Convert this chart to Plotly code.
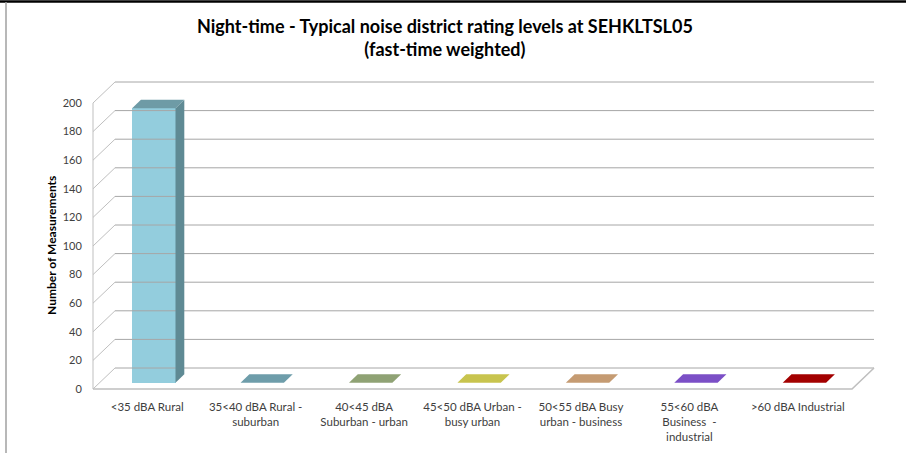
import plotly.graph_objects as go

# ---- data ----
categories = [
    "<35 dBA Rural",
    "35<40 dBA Rural -<br>suburban",
    "40<45 dBA<br>Suburban - urban",
    "45<50 dBA Urban -<br>busy urban",
    "50<55 dBA Busy<br>urban - business",
    "55<60 dBA<br>Business  -<br>industrial",
    ">60 dBA Industrial",
]
values = [192, 0, 0, 0, 0, 0, 0]
y_ticks = [0, 20, 40, 60, 80, 100, 120, 140, 160, 180, 200]
front_colors = ["#93CDDD", "#6E9DAA", "#8FA274", "#C8C44E", "#C59B72", "#7B4FC6", "#A30000"]
top_colors = ["#6E9BA6", "#6E9DAA", "#8FA274", "#C8C44E", "#C59B72", "#7B4FC6", "#A30000"]
side_colors = ["#5F8A94", "#557F8A", "#75865C", "#A5A23E", "#A3805D", "#6240A4", "#820000"]
title_text = "Night-time - Typical noise district rating levels at SEHKLTSL05<br>(fast-time weighted)"
y_title = "Number of Measurements"

# ---- layout geometry (pixels) ----
W, H = 906, 453
L_PX, R_PX, T_PX, B_PX = 90, 882, 70, 392
X0_PX, SX = 93, 108.43     # front plane: x=-0.5 at 93px, px per category
Y0_PX, SY = 389, 1.43      # front plane: y=0 at 389px, px per unit
DX = 22 / SX               # full depth offset (data units)
DY = 21 / SY
F1, F2 = 0.30, 0.70        # bar depth span (fraction of full depth)
BAR_W = 0.40

x_range = [-0.5 - (X0_PX - L_PX) / SX, -0.5 + (R_PX - X0_PX) / SX]
y_range = [-(B_PX - Y0_PX) / SY, (Y0_PX - T_PX) / SY]
n = len(categories)

fig = go.Figure()

grid_col = "#A6A6A6"
wall_col = "#BFBFBF"

# back wall gridlines
gx, gy = [], []
for v in y_ticks:
    gx += [-0.5 + DX, n - 0.5 + DX, None]
    gy += [v + DY, v + DY, None]
fig.add_trace(go.Scatter(x=gx, y=gy, mode="lines", line=dict(color=grid_col, width=1),
                         hoverinfo="skip", showlegend=False))
# side wall diagonals + front-left edge
sx_, sy_ = [], []
for v in y_ticks:
    sx_ += [-0.5, -0.5 + DX, None]
    sy_ += [v, v + DY, None]
sx_ += [-0.5, -0.5, None]
sy_ += [0, y_ticks[-1], None]
fig.add_trace(go.Scatter(x=sx_, y=sy_, mode="lines", line=dict(color=wall_col, width=1),
                         hoverinfo="skip", showlegend=False))
# floor outline
fig.add_trace(go.Scatter(x=[-0.5, n - 0.5, n - 0.5 + DX], y=[0, 0, DY], mode="lines",
                         line=dict(color=wall_col, width=1.6),
                         hoverinfo="skip", showlegend=False))

# bars: side faces, top faces, front faces
b1 = F1 * DY
ddx = (F2 - F1) * DX
ddy = (F2 - F1) * DY
for i, v in enumerate(values):
    xc = i + F1 * DX
    xl, xr = xc - BAR_W / 2, xc + BAR_W / 2
    if v > 0:
        fig.add_trace(go.Scatter(
            x=[xr, xr + ddx, xr + ddx, xr, xr],
            y=[b1, b1 + ddy, b1 + ddy + v, b1 + v, b1],
            fill="toself", fillcolor=side_colors[i], mode="lines",
            line=dict(width=0, color=side_colors[i]), hoverinfo="skip", showlegend=False))
    fig.add_trace(go.Scatter(
        x=[xl, xr, xr + ddx, xl + ddx, xl],
        y=[b1 + v, b1 + v, b1 + v + ddy, b1 + v + ddy, b1 + v],
        fill="toself", fillcolor=top_colors[i], mode="lines",
        line=dict(width=0, color=top_colors[i]), hoverinfo="skip", showlegend=False))

fig.add_trace(go.Bar(
    x=[i + F1 * DX for i in range(n)], y=values, base=b1, width=BAR_W,
    marker=dict(color=front_colors, line=dict(width=0)), showlegend=False,
    hovertext=[c.replace("<br>", " ") for c in categories], hoverinfo="text+y"))

# chart border decorations (paper coords)
pw = R_PX - L_PX
ph = B_PX - T_PX
def px_to_paper_x(px):
    return (px - L_PX) / pw
def px_to_paper_y(py):
    return (B_PX - py) / ph

shapes = [
    dict(type="line", xref="paper", yref="paper",
         x0=px_to_paper_x(0), x1=px_to_paper_x(W), y0=px_to_paper_y(1.5), y1=px_to_paper_y(1.5),
         line=dict(color="#000000", width=2.5)),
    dict(type="line", xref="paper", yref="paper",
         x0=px_to_paper_x(6), x1=px_to_paper_x(6), y0=px_to_paper_y(2), y1=px_to_paper_y(H),
         line=dict(color="#A0A0A0", width=1.5)),
]

annotations = [
    dict(text="<b>" + title_text + "</b>", xref="paper", yref="paper",
         x=px_to_paper_x(445), y=px_to_paper_y(13), xanchor="center", yanchor="top",
         showarrow=False, align="center",
         font=dict(size=18, color="#000000", family="Lato, Carlito, sans-serif")),
    dict(text="<b>" + y_title + "</b>", xref="paper", yref="paper",
         x=px_to_paper_x(52), y=px_to_paper_y(246), xanchor="center", yanchor="middle",
         textangle=-90, showarrow=False,
         font=dict(size=12, color="#000000", family="Lato, Carlito, sans-serif")),
]

fig.update_layout(
    width=W, height=H,
    template="none",
    margin=dict(l=L_PX, r=W - R_PX, t=T_PX, b=H - B_PX, pad=0, autoexpand=False),
    paper_bgcolor="white", plot_bgcolor="white",
    font=dict(family="Lato, Carlito, Liberation Sans, sans-serif", color="#404040", size=11),
    xaxis=dict(range=x_range, showgrid=False, zeroline=False, showline=False, automargin=False,
               tickmode="array", tickvals=list(range(n)), ticktext=categories,
               ticks="outside", ticklen=4, tickcolor="rgba(0,0,0,0)",
               tickfont=dict(size=11.5, color="#404040"), fixedrange=True),
    yaxis=dict(range=y_range, showgrid=False, zeroline=False, showline=False, automargin=False,
               tickmode="array", tickvals=y_ticks,
               ticks="outside", ticklen=5, tickcolor="rgba(0,0,0,0)",
               tickfont=dict(size=11, color="#404040"), fixedrange=True),
    shapes=shapes,
    annotations=annotations,
    bargap=0,
)

fig.write_html("out.html", config={"displayModeBar": False},
               post_script="document.body.style.margin='0px';")
